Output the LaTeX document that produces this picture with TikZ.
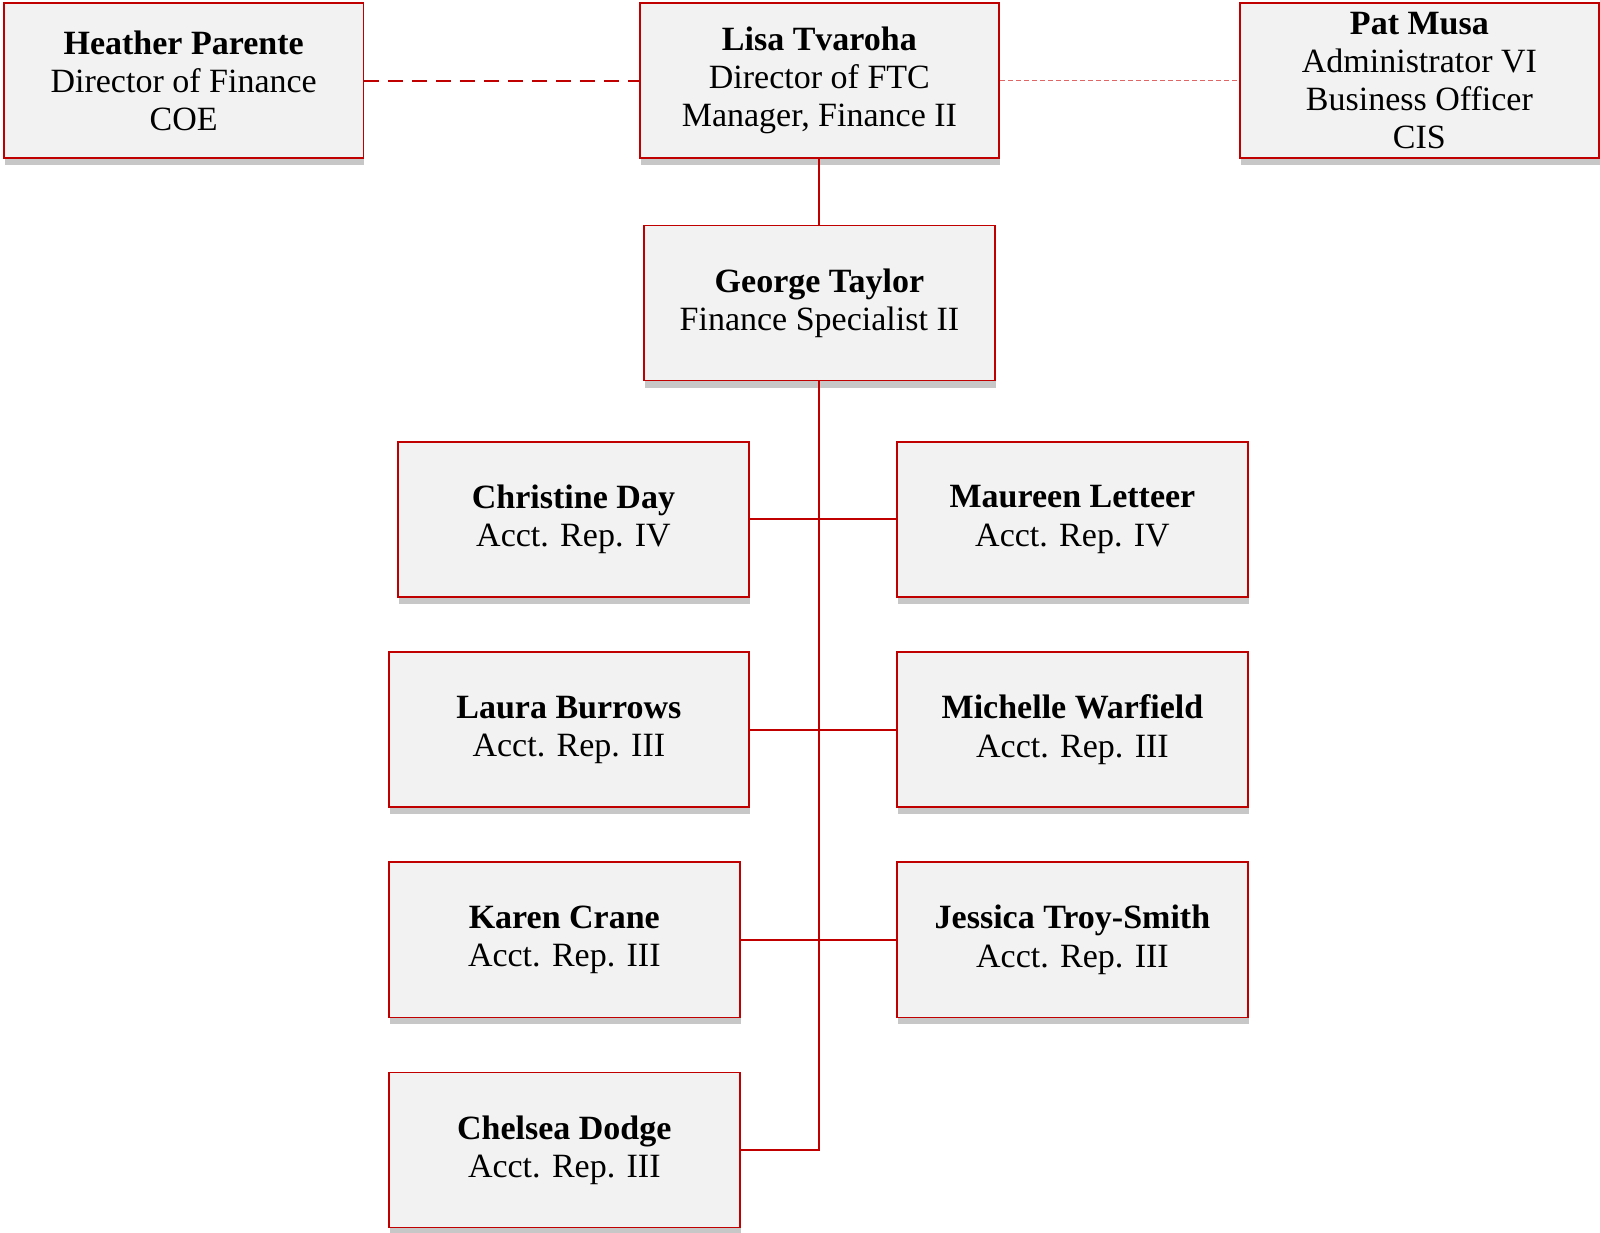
\documentclass[tikz,border=0pt]{standalone}
\usepackage{fontspec}
\setmainfont{Liberation Serif}
\usepackage{xcolor}
\usepackage{tikz}
\usetikzlibrary{shadows}

\definecolor{ftcred}{HTML}{C00000}
\definecolor{ftclight}{HTML}{E06666}
\definecolor{ftcfill}{HTML}{F2F2F2}
\tikzset{
  person/.style={draw=ftcred, line width=0.75pt, fill=ftcfill, align=center,
    inner sep=0pt, minimum height=77.6pt, minimum width=#1,
    font=\fontsize{17}{19.1}\selectfont,
    drop shadow={shadow xshift=0.5pt, shadow yshift=-3.5pt, fill=black!22, opacity=1}},
  person/.default=175.5pt,
  link/.style={draw=ftcred, line width=1pt}
}

\begin{document}
\begin{tikzpicture}[x=0.5102pt,y=-0.5102pt]
			\useasboundingbox (0,0) rectangle (1568,1208.3);
			% Hàng trên
			\node[person=179.6pt] (h) at (180,79) {\textbf{Heather Parente}\\Director of Finance\\COE};
			\node[person=179.6pt] (l) at (803,79) {\textbf{Lisa Tvaroha}\\Director of FTC\\Manager, Finance II};
			\node[person=179.6pt] (p) at (1391,79) {\textbf{Pat Musa}\\Administrator VI\\Business Officer\\CIS};
			\node[person] (g) at (803,297) {\textbf{George Taylor}\\Finance Specialist II};
			% Nhân viên
			\foreach \nm/\tl/\px/\py/\bw [count=\i] in {Christine Day/Acct. Rep. IV/562/509/175.5pt,
				Maureen Letteer/Acct. Rep. IV/1051/509/175.5pt,
				Laura Burrows/Acct. Rep. III/557.5/715/180.1pt,
				Michelle Warfield/Acct. Rep. III/1051/715/175.5pt,
				Karen Crane/Acct. Rep. III/553/921/175.5pt,
				Jessica Troy-Smith/Acct. Rep. III/1051/921/175.5pt,
				Chelsea Dodge/Acct. Rep. III/553/1127/175.5pt}
			\node[person=\bw] (s\i) at (\px,\py) {\textbf{\nm}\\\tl};
			% Đường nối
			\draw[link, dash pattern=on 7.5pt off 4.5pt] (h.east) -- (l.west);
			\draw[draw=ftclight, line width=0.5pt, dash pattern=on 2.5pt off 1.5pt] (l.east) -- (p.west);
			\draw[link] (l.south) -- (g.north);
			\draw[link] (g.south) |- (s7.east);
			\foreach \a/\b in {1/2,3/4,5/6}
			\draw[link] (s\a.east) -- (s\b.west);
		\end{tikzpicture}
\end{document}
